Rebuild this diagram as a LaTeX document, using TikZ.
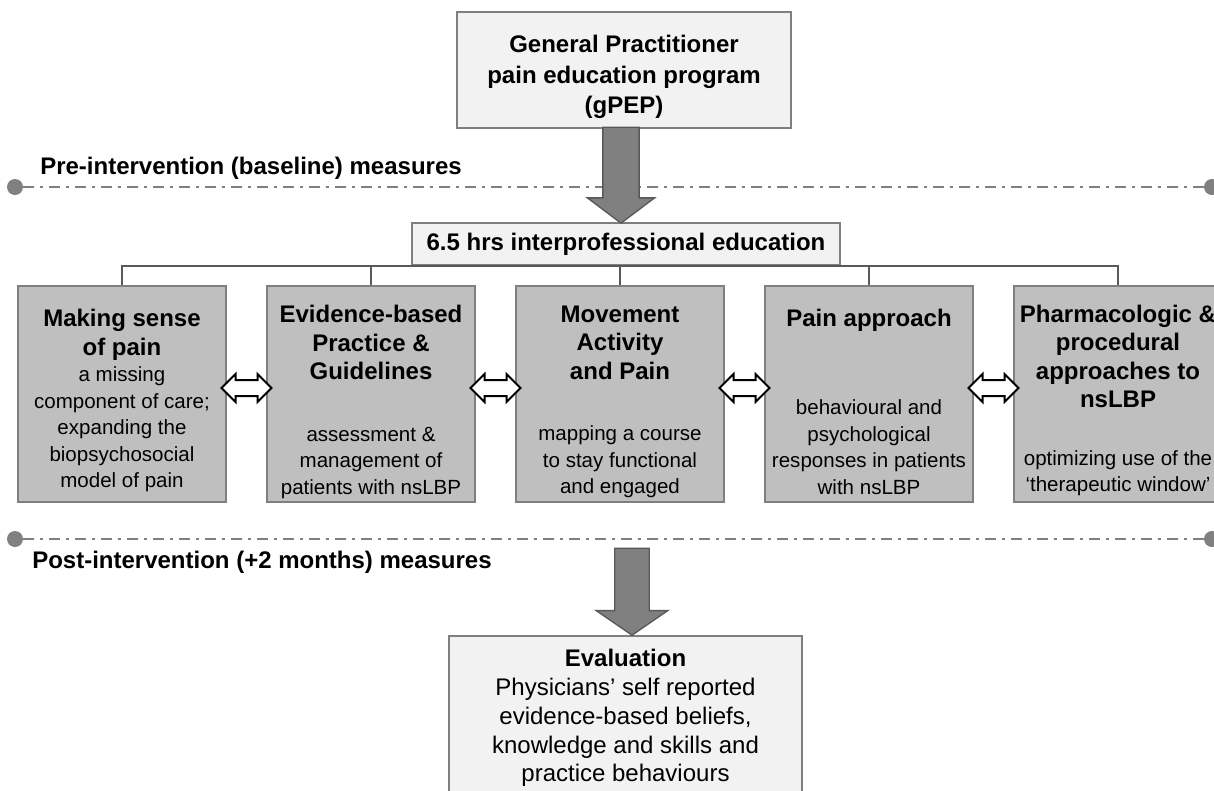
\documentclass[tikz,border=0pt]{standalone}
\usepackage{fontspec}
\setmainfont{Liberation Sans}
\usetikzlibrary{shapes.arrows}

\begin{document}
\begin{tikzpicture}[x=0.75pt,y=0.75pt,yscale=-1,xscale=1,
  lightbox/.style={draw={rgb, 255:red, 127; green, 127; blue, 127}, line width=1.5pt, fill={rgb, 255:red, 242; green, 242; blue, 242}, inner sep=0pt},
  topicbox/.style={draw={rgb, 255:red, 127; green, 127; blue, 127}, line width=1.5pt, fill={rgb, 255:red, 191; green, 191; blue, 191}, minimum width=156pt, minimum height=162pt, inner sep=0pt},
  title/.style={font=\bfseries\fontsize{18}{21.4}\selectfont, align=center, inner sep=0pt},
  desc/.style={font=\fontsize{15.4}{19.9}\selectfont, align=center, inner sep=0pt},
  phase/.style={font=\bfseries\fontsize{18}{21}\selectfont, anchor=west, inner sep=0pt},
  dot/.style={circle, fill={rgb, 255:red, 128; green, 128; blue, 128}, minimum size=12pt, inner sep=0pt},
  phaseline/.style={draw={rgb, 255:red, 128; green, 128; blue, 128}, line width=1.5pt, dash pattern=on 8.25pt off 4.5pt on 2.25pt off 4.5pt},
  tree/.style={draw={rgb, 255:red, 89; green, 89; blue, 89}, line width=1.5pt},
  bigarrow/.style={single arrow, draw={rgb, 255:red, 89; green, 89; blue, 89}, line width=1pt, fill={rgb, 255:red, 128; green, 128; blue, 128}, shape border rotate=270, anchor=tip},
  link/.style={double arrow, draw=black, line width=1.5pt, fill=white, minimum height=37.5pt, double arrow head extend=4.5pt, inner sep=5.25pt}
]
\useasboundingbox (0,0) rectangle (1214,790);

%Baseline and follow-up lines
\node [dot] (preL) at (15,187) {};
\node [dot] (preR) at (1212,187) {};
\draw [phaseline] (preL) -- (preR) ;
\node [dot] (postL) at (15,539) {};
\node [dot] (postR) at (1212,539) {};
\draw [phaseline] (postL) -- (postR) ;

% Text Node
\node [phase] (pre) at (40,168) {Pre-intervention (baseline) measures};
% Text Node
\node [phase] (post) at (32,562) {Post-intervention (+2 months) measures};

%Program box
\node [lightbox, minimum width=250.5pt, minimum height=87pt] (gpep) at (624,70) {};
% Text Node
\node [inner sep=0pt, font=\bfseries\fontsize{18}{22.9}\selectfont, align=center] (gpeptext) at (624,77) {General Practitioner\\pain education program\\(gPEP)};

%Education box
\node [lightbox, minimum width=321pt, minimum height=31.5pt, font=\bfseries\fontsize{18}{21}\selectfont] (edu) at (626,244) {6.5 hrs interprofessional education};

%Topic boxes
\node [topicbox] (b1) at (122,394) {};
\node [topicbox] (b2) at (371,394) {};
\node [topicbox] (b3) at (620,394) {};
\node [topicbox] (b4) at (869,394) {};
\node [topicbox] (b5) at (1118,394) {};

%Tree lines
\draw [tree] (b1.north) -- (b1.north |- edu.south) -| (b5.north) ;
\draw [tree] (b2.north) -- (b2.north |- edu.south) ;
\draw [tree] (b3.north) -- (b3.north |- edu.south) ;
\draw [tree] (b4.north) -- (b4.north |- edu.south) ;

% Text Node
\node [title] (t1) at (122,335) {Making sense\\of pain};
\node [desc] (d1) at (122,429.5) {a missing\\component of care;\\expanding the\\biopsychosocial\\model of pain};
% Text Node
\node [title] (t2) at (371,342.5) {Evidence-based\\Practice \&\\Guidelines};
\node [desc] (d2) at (371,463) {assessment \&\\management of\\patients with nsLBP};
% Text Node
\node [title] (t3) at (620,342.5) {Movement\\Activity\\and Pain};
\node [desc] (d3) at (620,462) {mapping a course\\to stay functional\\and engaged};
% Text Node
\node [title] (t4) at (869,320) {Pain approach};
\node [desc] (d4) at (869,447) {behavioural and\\psychological\\responses in patients\\with nsLBP};
% Text Node
\node [title] (t5) at (1118,356.5) {Pharmacologic \&\\procedural\\approaches to\\nsLBP};
\node [desc] (d5) at (1118,473) {optimizing use of the\\‘therapeutic window’};

%Double arrows between topics
\node [link] (l12) at (246.5,388) {};
\node [link] (l23) at (495.5,388) {};
\node [link] (l34) at (744.5,388) {};
\node [link] (l45) at (993.5,388) {};

%Evaluation box
\node [lightbox, minimum width=264.75pt, minimum height=123pt] (eval) at (625.5,718) {};
% Text Node
\node [anchor=north, inner sep=0pt, align=center, font=\fontsize{18}{21.6}\selectfont] (evaltext) at (625.5,649) {\textbf{Evaluation}\\Physicians’ self reported\\evidence-based beliefs,\\knowledge and skills and\\practice behaviours};

%Block arrows
\node [bigarrow, inner sep=13.1pt, minimum height=72pt, single arrow head extend=11.6pt, single arrow tip angle=106] (down1) at (621,224) {};
\node [bigarrow, inner sep=12.4pt, minimum height=65.25pt, single arrow head extend=13.9pt, single arrow tip angle=111] (down2) at (632,636) {};

\end{tikzpicture}
\end{document}
